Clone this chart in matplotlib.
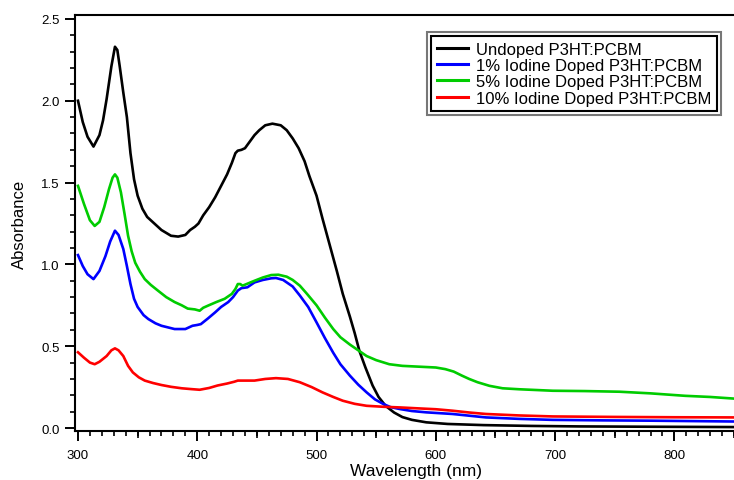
import matplotlib
matplotlib.use("Agg")

import numpy as np
import matplotlib.pyplot as plt
from matplotlib.patches import Rectangle
from matplotlib.ticker import MultipleLocator, FormatStrFormatter

plt.rcParams["font.family"] = ["Liberation Sans", "DejaVu Sans"]

# data
wl_undoped = [300, 304, 308, 313, 318, 321, 324, 328, 331, 333, 335, 338, 341, 344, 347, 350,
              354, 358, 364, 370, 378, 384, 390, 394, 398, 401, 405, 410, 415, 420, 425, 429,
              432, 434, 437, 440, 444, 448, 452, 457, 463, 470, 475, 480, 485, 490, 494, 500,
              505, 511, 517, 522, 528, 532, 536, 541, 547, 552, 558, 565, 572, 580, 592, 610,
              640, 680, 720, 780, 850]
abs_undoped = [2.00, 1.87, 1.78, 1.72, 1.79, 1.88, 2.01, 2.21, 2.33, 2.31, 2.21, 2.05, 1.90, 1.68, 1.52, 1.42,
               1.34, 1.29, 1.25, 1.21, 1.175, 1.17, 1.18, 1.21, 1.23, 1.25, 1.30, 1.35, 1.41, 1.48, 1.55, 1.62,
               1.68, 1.695, 1.70, 1.71, 1.75, 1.79, 1.82, 1.85, 1.86, 1.85, 1.82, 1.77, 1.71, 1.63, 1.54, 1.42,
               1.28, 1.12, 0.96, 0.82, 0.68, 0.58, 0.47, 0.37, 0.26, 0.19, 0.135, 0.095, 0.067, 0.05, 0.035, 0.025,
               0.018, 0.013, 0.010, 0.008, 0.006]

wl_1pct = [300, 304, 308, 313, 318, 323, 327, 331, 334, 338, 341, 344, 347, 350, 355, 359,
           365, 370, 381, 390, 396, 400, 403, 409, 415, 420, 426, 430, 434, 437, 442, 448,
           455, 462, 466, 472, 480, 486, 493, 500, 507, 514, 520, 528, 535, 542, 549, 556,
           562, 570, 580, 592, 614, 642, 670, 698, 740, 781, 850]
abs_1pct = [1.057, 0.99, 0.94, 0.91, 0.96, 1.05, 1.14, 1.206, 1.18, 1.094, 0.99, 0.88, 0.79, 0.74, 0.69, 0.666,
            0.64, 0.625, 0.605, 0.605, 0.625, 0.63, 0.635, 0.67, 0.707, 0.74, 0.77, 0.80, 0.84, 0.855, 0.86, 0.89,
            0.905, 0.915, 0.917, 0.905, 0.865, 0.81, 0.74, 0.646, 0.55, 0.46, 0.39, 0.32, 0.265, 0.218, 0.175, 0.147,
            0.128, 0.116, 0.104, 0.096, 0.086, 0.065, 0.056, 0.050, 0.047, 0.045, 0.040]

wl_5pct = [300, 305, 310, 314, 318, 322, 326, 329, 331, 333, 336, 339, 342, 345, 348, 352,
           356, 361, 367, 374, 381, 387, 392, 398, 402, 405, 409, 416, 423, 429, 432, 434,
           436, 438, 443, 448, 455, 462, 468, 475, 480, 486, 492, 500, 507, 514, 520, 528,
           535, 542, 550, 561, 572, 586, 600, 608, 615, 622, 628, 635, 645, 656, 670, 698,
           725, 754, 780, 809, 830, 850]
abs_5pct = [1.48, 1.37, 1.27, 1.235, 1.26, 1.35, 1.46, 1.53, 1.55, 1.53, 1.44, 1.31, 1.175, 1.08, 1.01, 0.955,
            0.91, 0.875, 0.84, 0.80, 0.77, 0.75, 0.73, 0.725, 0.717, 0.735, 0.748, 0.77, 0.79, 0.82, 0.85, 0.88,
            0.88, 0.87, 0.885, 0.90, 0.92, 0.935, 0.937, 0.925, 0.905, 0.87, 0.82, 0.75, 0.675, 0.605, 0.555, 0.51,
            0.475, 0.44, 0.415, 0.39, 0.38, 0.375, 0.37, 0.36, 0.345, 0.32, 0.30, 0.28, 0.258, 0.243, 0.237, 0.228,
            0.226, 0.222, 0.212, 0.197, 0.19, 0.18]

wl_10pct = [300, 305, 310, 314, 318, 324, 328, 331, 334, 338, 342, 346, 351, 356, 363, 370,
            378, 387, 395, 402, 410, 417, 425, 431, 434, 440, 448, 457, 466, 476, 486, 496,
            505, 514, 522, 532, 542, 556, 570, 586, 600, 614, 628, 642, 670, 698, 750, 800, 850]
abs_10pct = [0.463, 0.43, 0.40, 0.39, 0.405, 0.44, 0.475, 0.487, 0.475, 0.44, 0.38, 0.34, 0.31, 0.29, 0.275, 0.263,
             0.252, 0.243, 0.238, 0.234, 0.245, 0.26, 0.272, 0.283, 0.29, 0.29, 0.29, 0.30, 0.305, 0.30, 0.28, 0.25,
             0.218, 0.19, 0.167, 0.148, 0.136, 0.13, 0.126, 0.12, 0.115, 0.106, 0.095, 0.086, 0.077, 0.071, 0.068, 0.066, 0.065]

labels = ["Undoped P3HT:PCBM", "1% Iodine Doped P3HT:PCBM",
          "5% Iodine Doped P3HT:PCBM", "10% Iodine Doped P3HT:PCBM"]
colors = ["#000000", "#0000ff", "#00cc00", "#ff0000"]

fig = plt.figure(figsize=(7.34, 4.81), dpi=100)
ax = fig.add_axes([75 / 734, 1 - 432 / 481, 1 - 75 / 734, (432 - 16) / 481])

series = [(wl_undoped, abs_undoped), (wl_1pct, abs_1pct), (wl_5pct, abs_5pct), (wl_10pct, abs_10pct)]
for (w, a), lab, c in zip(series, labels, colors):
    ax.plot(w, a, color=c, lw=1.9, label=lab, solid_joinstyle="round")

ax.set_xlim(297.5, 850)
ax.set_ylim(-0.018, 2.524)

ax.xaxis.set_major_locator(MultipleLocator(100))
ax.xaxis.set_minor_locator(MultipleLocator(10))
ax.yaxis.set_major_locator(MultipleLocator(0.5))
ax.yaxis.set_minor_locator(MultipleLocator(0.1))
ax.yaxis.set_major_formatter(FormatStrFormatter("%.1f"))

ax.tick_params(which="major", direction="out", length=7, width=1.4, labelsize=9.5, pad=4)
ax.tick_params(axis="x", which="major", pad=6)
ax.tick_params(which="minor", direction="out", length=3.5, width=1.2)
ax.tick_params(top=False, right=False, which="both")

# medium ticks every 50 nm
sec = ax.secondary_xaxis("bottom")
sec.set_xticks([350, 450, 550, 650, 750, 850])
sec.set_xticklabels([])
sec.tick_params(direction="out", length=5, width=1.2)
sec.spines["bottom"].set_visible(False)

for s in ["left", "bottom", "top"]:
    ax.spines[s].set_linewidth(1.5)
ax.spines["right"].set_visible(False)

ax.set_xlabel("Wavelength (nm)", fontsize=12.5)
ax.xaxis.set_label_coords(0.517, -0.076)
ax.set_ylabel("Absorbance", fontsize=12, labelpad=10)

leg = ax.legend(loc="upper right", bbox_to_anchor=(717 / 734, 1 - 36.7 / 481),
                bbox_transform=fig.transFigure, borderaxespad=0, fontsize=12,
                handlelength=1.9, handletextpad=0.45, labelspacing=0.08,
                borderpad=0.35, fancybox=False, framealpha=1)
leg.get_frame().set_edgecolor("black")
leg.get_frame().set_linewidth(1.5)
for h in leg.get_lines():
    h.set_linewidth(2.2)

# outer grey border of the legend box
fig.canvas.draw()
bb = leg.get_window_extent().transformed(fig.transFigure.inverted())
dx, dy = 4 / 734, 4 / 481
fig.add_artist(Rectangle((bb.x0 - dx, bb.y0 - dy), bb.width + 2 * dx, bb.height + 2 * dy,
                         transform=fig.transFigure, fill=False, edgecolor="#777777", lw=1.5))

fig.savefig("out.png", dpi=100)
